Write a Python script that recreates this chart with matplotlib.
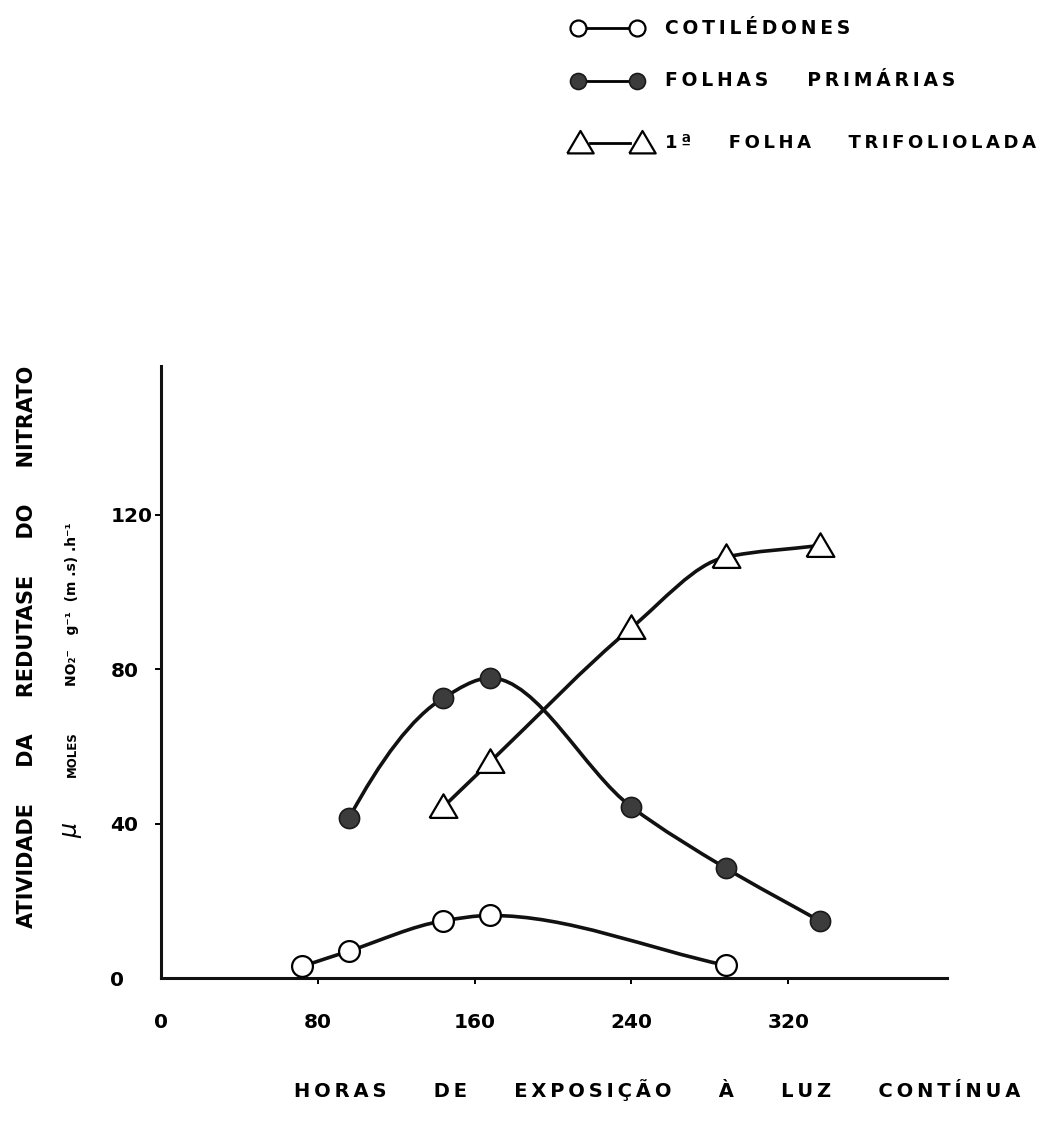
import numpy as np
import matplotlib
matplotlib.use("Agg")
import matplotlib.pyplot as plt
from matplotlib.path import Path
from matplotlib.patches import PathPatch

# horas de exposicao a luz continua
horas_cot = [72, 96, 144, 168, 288]
atividade_cot = [3, 7, 14.8, 16.2, 3.3]

horas_fp = [96, 144, 168, 240, 288, 336]
atividade_fp = [41.5, 72.5, 77.7, 44.3, 28.5, 14.8]

horas_tri = [144, 168, 240, 288, 336]
atividade_tri = [44.3, 56, 90.7, 109, 112]

xticks = [0, 80, 160, 240, 320]
yticks = [0, 40, 80, 120]

THIN = "\u2009"


def espacado(texto, letra=1, palavra=5):
    """Imita o letreiro espacado do original."""
    palavras = texto.split()
    return (" " * palavra).join((THIN * letra).join(p) for p in palavras)


def derivadas(x, y):
    # derivadas tipo PCHIP, sem ultrapassar os picos
    x = np.asarray(x, float)
    y = np.asarray(y, float)
    h = np.diff(x)
    dl = np.diff(y) / h
    d = np.zeros_like(y)
    for k in range(1, len(y) - 1):
        if dl[k - 1] * dl[k] > 0:
            w1 = 2 * h[k] + h[k - 1]
            w2 = h[k] + 2 * h[k - 1]
            d[k] = (w1 + w2) / (w1 / dl[k - 1] + w2 / dl[k])
    d[0] = ((2 * h[0] + h[1]) * dl[0] - h[0] * dl[1]) / (h[0] + h[1])
    if np.sign(d[0]) != np.sign(dl[0]):
        d[0] = 0
    d[-1] = dl[-1]
    return d


def curva(ax, xs, ys, **kw):
    """Curva suave (Bezier cubica) passando pelos pontos."""
    d = derivadas(xs, ys)
    verts = [(xs[0], ys[0])]
    codes = [Path.MOVETO]
    for i in range(len(xs) - 1):
        h = xs[i + 1] - xs[i]
        verts += [(xs[i] + h / 3, ys[i] + d[i] * h / 3),
                  (xs[i + 1] - h / 3, ys[i + 1] - d[i + 1] * h / 3),
                  (xs[i + 1], ys[i + 1])]
        codes += [Path.CURVE4] * 3
    ax.add_patch(PathPatch(Path(verts, codes), fill=False, capstyle="round",
                           joinstyle="round", **kw))


TRI = [(-1, -0.75), (1, -0.75), (0, 0.95), (-1, -0.75)]

fig = plt.figure(figsize=(10.4, 11.26), dpi=100)
ax = fig.add_axes([161 / 1040, 1 - 978 / 1126, 786 / 1040, 612 / 1126])

lw = 2.6
curva(ax, horas_cot, atividade_cot, lw=lw, color="#111111", zorder=2)
curva(ax, horas_fp, atividade_fp, lw=lw, color="#111111", zorder=2)
curva(ax, horas_tri, atividade_tri, lw=lw, color="#111111", zorder=2)

ax.plot(horas_cot, atividade_cot, ls="none", marker="o", ms=15,
        mfc="white", mec="black", mew=1.6, zorder=3, clip_on=False)
ax.plot(horas_fp, atividade_fp, ls="none", marker="o", ms=14.5,
        mfc="#3c3c3c", mec="#1a1a1a", mew=1.2, zorder=3, clip_on=False)
ax.plot(horas_tri, atividade_tri, ls="none", marker=TRI, ms=20,
        mfc="white", mec="black", mew=1.6, zorder=3, clip_on=False)

ax.set_xlim(0, 401)
ax.set_ylim(0, 158.5)
for s in ["top", "right"]:
    ax.spines[s].set_visible(False)
for s in ["left", "bottom"]:
    ax.spines[s].set_linewidth(2.2)
    ax.spines[s].set_color("#111111")

ax.set_xticks(xticks)
ax.set_xticklabels(["0"] + [str(v) for v in xticks[1:]])
ax.set_yticks(yticks)
ax.tick_params(axis="x", length=4.5, width=1.4, pad=21, labelsize=14.5)
ax.tick_params(axis="y", length=4.5, width=1.4, pad=32, labelsize=14.5)
for lab in ax.get_xticklabels() + ax.get_yticklabels():
    lab.set_fontweight("bold")
for lab in ax.get_yticklabels():
    lab.set_horizontalalignment("left")
ax.get_xticklabels()[0].set_x(4)
ax.xaxis.get_major_ticks()[0].tick1line.set_visible(False)
ax.yaxis.get_major_ticks()[0].tick1line.set_visible(False)

# titulos dos eixos
fig.text(657 / 1040, 1 - 1090 / 1126,
         espacado("HORAS DE EXPOSIÇÃO À LUZ CONTÍNUA", palavra=7),
         ha="center", va="center", fontsize=14, fontweight="bold")
fig.text(27 / 1040, 1 - 647 / 1126,
         "ATIVIDADE     DA     REDUTASE     DO     NITRATO",
         rotation=90, ha="center", va="center", fontsize=15,
         fontweight="bold")
fig.text(70 / 1040, 1 - 830 / 1126, "µ", rotation=90, ha="center",
         va="center", fontsize=17, fontstyle="italic")
fig.text(72 / 1040, 1 - 754 / 1126, "MOLES", rotation=90, ha="center",
         va="center", fontsize=8.5, fontweight="bold")
fig.text(72 / 1040, 1 - 604 / 1126, "NO₂⁻   g⁻¹  (m .s) .h⁻¹",
         rotation=90, ha="center", va="center", fontsize=10,
         fontweight="bold")

# legenda desenhada a mao, em pixels
lg = fig.add_axes([0, 0, 1, 1], zorder=-1)
lg.set_xlim(0, 1040)
lg.set_ylim(1126, 0)
lg.axis("off")

linhas = [28, 81, 143]
lg.plot([586, 628], [linhas[0]] * 2, color="black", lw=2)
lg.plot([578, 637], [linhas[0]] * 2, ls="none", marker="o", ms=11.5,
        mfc="white", mec="black", mew=1.6)
lg.plot([586, 628], [linhas[1]] * 2, color="black", lw=2)
lg.plot([578, 637], [linhas[1]] * 2, ls="none", marker="o", ms=11.5,
        mfc="#3c3c3c", mec="#1a1a1a", mew=1.2)
lg.plot([590, 630], [linhas[2]] * 2, color="black", lw=2)
lg.plot([580, 642], [linhas[2]] * 2, ls="none", marker=TRI, ms=19,
        mfc="white", mec="black", mew=1.6)

lg.text(665, linhas[0], espacado("COTILÉDONES"), ha="left", va="center",
        fontsize=13.5, fontweight="bold")
lg.text(665, linhas[1], espacado("FOLHAS PRIMÁRIAS", palavra=6), ha="left",
        va="center", fontsize=13.5, fontweight="bold")
lg.text(665, linhas[2], espacado("1ª FOLHA TRIFOLIOLADA", palavra=6),
        ha="left", va="center", fontsize=13, fontweight="bold")

fig.savefig("out.png", dpi=100, facecolor="white")
